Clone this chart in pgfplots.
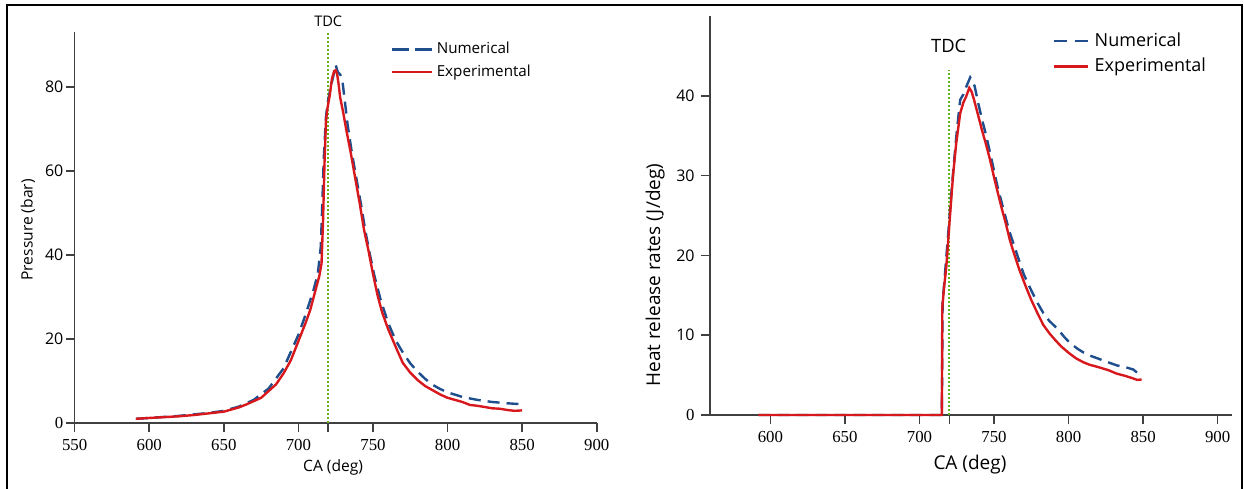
\documentclass[border=0pt]{standalone}
\usepackage{fontspec}
\setmainfont{Liberation Serif}
\setsansfont{Open Sans}
\newfontfamily\serifnum{Liberation Serif}
\newfontfamily\sansnum{Open Sans}
\usepackage{pgfplots}
\pgfplotsset{compat=1.18}
\definecolor{numblue}{RGB}{31,78,140}
\definecolor{expred}{RGB}{215,25,30}
\definecolor{tdcgreen}{RGB}{100,180,30}
\definecolor{axgray}{RGB}{64,64,64}
\pgfplotsset{
  myaxis/.style={
    scale only axis, anchor=south west,
    axis lines=left, axis line style={-, axgray, line width=0.8pt},
    every tick/.style={axgray, line width=0.8pt},
    tick align=outside, major tick length=4.5pt,
    clip=false,
    /pgf/number format/assume math mode=true,
    xticklabel style={font=\serifnum\fontsize{8.4}{10}\selectfont},
    yticklabel style={font=\sansnum\fontsize{8}{10}\selectfont, inner xsep=1pt},
    legend cell align=left,
  },
  numstyle/.style={numblue, line width=1.2pt, dash pattern=on 6pt off 3.5pt},
  expstyle/.style={expred, line width=1.2pt},
  tdcstyle/.style={tdcgreen, line width=0.9pt, dash pattern=on 0.9pt off 1.1pt},
}
\begin{document}
\begin{tikzpicture}
\useasboundingbox (0,0) rectangle (622pt,244pt);
\draw[line width=1.25pt, line join=miter] (3.5pt,-2pt) -- (3.5pt,241.5pt) -- (621pt,241.5pt) -- (621pt,-2pt);
% ---------------- Pressure ----------------
\begin{axis}[myaxis, at={(37.35pt,32.5pt)}, width=261pt, height=195.5pt,
  xmin=550, xmax=900, ymin=0, ymax=93.1,
  xtick={550,600,650,700,750,800,850,900},
  xticklabels={{\serifnum 550},{\serifnum 600},{\serifnum 650},{\serifnum 700},{\serifnum 750},{\serifnum 800},{\serifnum 850},{\serifnum 900}},
  extra x ticks={720}, extra x tick labels={},
  ytick={0,20,40,60,80},
  yticklabels={{\serifnum\fontsize{8.4}{10}\selectfont 0},{\sansnum 20},{\sansnum 40},{\sansnum 60},{\sansnum 80}},
  xlabel={CA (deg)}, ylabel={Pressure (bar)},
  xlabel style={at={(axis description cs:0.495,-0.1125)}, anchor=center, font=\sffamily\fontsize{7.8}{9}\selectfont},
  ylabel style={at={(axis description cs:-0.0895,0.494)}, anchor=center, font=\sffamily\fontsize{7.8}{9}\selectfont},
  legend style={at={(axis description cs:0.604,0.98)}, anchor=north west, draw=none, fill=none,
    inner xsep=0pt, inner ysep=0pt, row sep=2pt, font=\sffamily\fontsize{7.6}{9}\selectfont,
    nodes={inner xsep=2pt, inner ysep=1pt}},
  legend image code/.code={\draw[#1] (0pt,0pt) -- (20pt,0pt);},
]
\addplot[tdcstyle, forget plot] coordinates {(720,0) (720,93.1)};
\addplot[numstyle, legend image post style={dash pattern=on 8.5pt off 3pt}] coordinates {
(591,1.0) (600,1.2) (620,1.7) (640,2.4) (650,2.9) (660,3.9) (670,5.5) (680,8.2)
(690,13) (700,21) (705,26) (710,31.5) (713,35.5) (715,42) (716,52) (717,63)
(718.5,73) (720,77) (722,80.5) (724,83.5) (725,85.2) (726.5,83.5) (728,83)
(729.5,81.5) (731,77) (733,71) (736,64) (739,58) (742,52) (745,45.5) (748,40)
(751,35) (755,29.5) (760,24) (765,19.8) (770,16.8) (775,14.2) (780,12.2)
(785,10.5) (790,9.1) (795,8.1) (800,7.3) (810,6.2) (820,5.5) (830,5.0) (840,4.7) (848,4.5)
};
\addlegendentry{Numerical}
\addplot[expstyle] coordinates {
(591,1.0) (600,1.2) (610,1.4) (620,1.6) (630,1.9) (640,2.3) (650,2.7) (655,3.2)
(660,3.7) (665,4.4) (670,5.2) (675,6.0) (680,7.6) (685,9.2) (690,11.8) (695,15.0)
(700,19.5) (705,24.0) (708,27.0) (711,31) (714,35) (715.5,38) (716.5,48) (717.5,62)
(718.5,72) (719.5,75) (721,78) (722.5,82) (724,83.8) (725,84) (726,83) (727,80.5)
(728,77.5) (730,74) (732,70) (735,64.5) (738,58.5) (741,52.5) (744,46) (747,41)
(750,35.5) (753,30.5) (756,26.5) (760,22.5) (763,20) (766,17.5) (770,14.3)
(775,12) (780,10.2) (785,8.8) (790,7.8) (795,6.8) (800,6.0) (805,5.5) (810,5.0)
(815,4.3) (820,4.1) (825,3.8) (830,3.5) (835,3.4) (840,3.1) (845,2.9) (850,3.0)
};
\addlegendentry{Experimental}
\node[font=\sffamily\fontsize{7.3}{9}\selectfont] at (axis cs:720,95.6) {TDC};
\end{axis}
% ---------------- Heat release rate ----------------
\begin{axis}[myaxis, at={(355pt,36.5pt)}, width=261pt, height=199.5pt,
  xmin=559.5, xmax=909.6, ymin=0, ymax=50,
  xtick={600,650,700,750,800,850,900},
  xticklabels={{\serifnum 600},{\serifnum 650},{\serifnum 700},{\serifnum 750},{\serifnum 800},{\serifnum 850},{\serifnum 900}},
  extra x ticks={720}, extra x tick labels={},
  ytick={0,10,20,30,40},
  yticklabels={{\serifnum\fontsize{8.4}{10}\selectfont 0},{\sansnum 10},{\sansnum 20},{\sansnum 30},{\sansnum 40}},
  yticklabel style={inner xsep=3pt},
  xlabel={CA (deg)}, ylabel={Heat release rates (J/deg)},
  xlabel style={at={(axis description cs:0.498,-0.125)}, anchor=center, font=\sffamily\fontsize{9.5}{11}\selectfont},
  ylabel style={at={(axis description cs:-0.105,0.351)}, anchor=center, font=\sffamily\fontsize{9.5}{11}\selectfont},
  legend style={at={(axis description cs:0.655,0.965)}, anchor=north west, draw=none, fill=none,
    inner xsep=0pt, inner ysep=0pt, row sep=2.5pt, font=\sffamily\fontsize{9}{11}\selectfont,
    nodes={inner xsep=3pt, inner ysep=1pt}},
  legend image code/.code={\draw[#1] (0pt,0pt) -- (17pt,0pt);},
]
\addplot[tdcstyle, forget plot] coordinates {(720,0) (720,43.2)};
\addplot[numstyle, legend image post style={dash pattern=on 6.5pt off 4pt}] coordinates {
(592,0) (715,0) (715.5,14) (717,17.5) (719.3,22.8) (721,27) (723.3,32) (725,35.5)
(727.3,39.5) (729.5,40.2) (731.5,41.2) (734,42.3) (735.5,41.8) (737,41.2) (739.5,39)
(742,37) (745,34.8) (748,32.3) (752.6,28.4) (756,26) (760,23.2) (766,19.8) (770,17.6)
(775,15.6) (779.3,14) (783,12.8) (787,11.8) (792.6,10.8) (797,9.8) (801,9) (806,8.3)
(812,7.6) (819.4,7.1) (825,6.7) (832.7,6.2) (838,6.0) (843.4,5.7) (846,5.3) (849,5.4)
};
\addlegendentry{Numerical}
\addplot[expstyle] coordinates {
(592,0) (715,0) (715.3,13.5) (716.5,16) (718,18.6) (720.6,25.3) (722.5,30) (724.6,34)
(727.3,37.8) (729.5,39.2) (731.3,39.9) (733.4,41.0) (735,40.5) (736.6,39.5) (739,37.8)
(741.9,35.7) (744.5,34) (747.3,32) (750,29.8) (752.6,27.8) (755,26) (757.9,24)
(760.5,22) (763.3,20.3) (767,18.2) (771.3,16.1) (775,14.4) (779.3,12.7) (783,11.3)
(787.3,10.2) (791,9.4) (795,8.6) (800,7.8) (805,7.1) (810,6.6) (814,6.3) (820,6.0)
(827,5.6) (832,5.2) (838,4.9) (843,4.6) (846,4.4) (849,4.45)
};
\addlegendentry{Experimental}
\node[font=\sffamily\fontsize{9.2}{11}\selectfont] at (axis cs:719.6,46.3) {TDC};
\end{axis}
\end{tikzpicture}
\end{document}
